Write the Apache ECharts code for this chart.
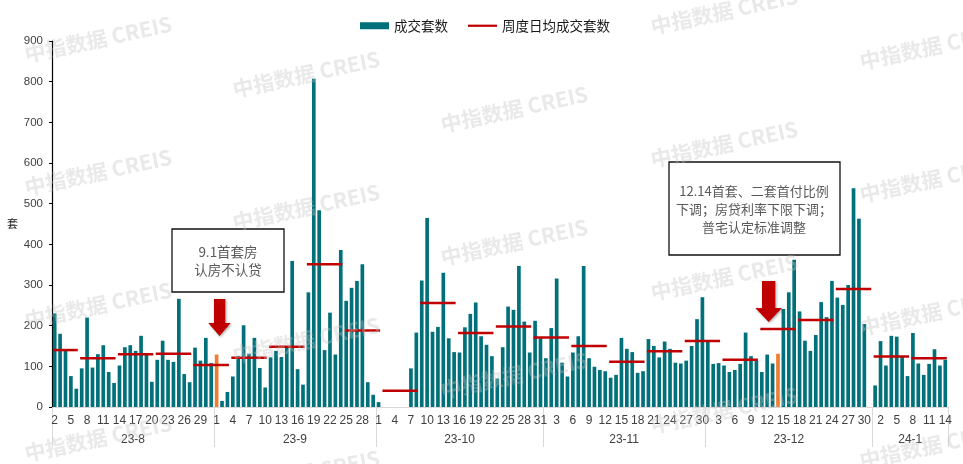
<!DOCTYPE html>
<html><head><meta charset="utf-8">
<script src="https://cdn.jsdelivr.net/npm/echarts@6/dist/echarts.min.js"></script>
<style>html,body{margin:0;padding:0;background:#fff}#c{width:963px;height:464px}</style>
</head><body><div id="c"></div>
<script>
// ---- data ----
const monthLabels = ['23-8', '23-9', '23-10', '23-11', '23-12', '24-1'];
const monthFirstDay = [2, 1, 1, 1, 1, 1];
const monthLastDay = [31, 30, 31, 30, 31, 14];

const aug = [230, 180, 140, 76, 45, 95, 220, 97, 130, 152, 86, 59, 102, 147, 152, 138, 175, 130, 62, 116, 163, 116, 111, 266, 81, 61, 146, 114, 170, 108];
const sep = [129, 15, 37, 75, 125, 201, 131, 170, 96, 48, 122, 138, 123, 147, 359, 93, 55, 282, 807, 484, 140, 232, 129, 386, 261, 293, 310, 351, 61, 30];
const oct = [12, 0, 0, 0, 0, 0, 95, 183, 311, 465, 185, 197, 330, 169, 135, 134, 196, 229, 257, 174, 153, 125, 70, 147, 247, 239, 347, 210, 134, 212, 169];
const nov = [120, 194, 316, 109, 75, 134, 174, 347, 120, 99, 91, 88, 72, 79, 170, 143, 135, 84, 88, 167, 150, 122, 161, 143, 109, 107, 114, 150, 216, 270];
const dec = [161, 106, 108, 102, 86, 91, 106, 183, 125, 113, 86, 129, 107, 131, 241, 282, 362, 235, 163, 138, 177, 258, 221, 310, 269, 251, 300, 538, 463, 204, 0];
const jan = [53, 162, 102, 175, 173, 124, 76, 182, 107, 79, 106, 142, 102, 116];
const dailyValues = [aug, sep, oct, nov, dec, jan];

// weekly (Mon-Sun) daily average; first week is Aug 2-6
const weeklyAvg = [140, 120, 130, 131, 103, 121, 148, 351, 188, 40, 256, 182, 198, 171, 150, 111, 137, 162, 116, 192, 214, 290, 124, 120];
const firstWeekDays = 5;

const highlightDays = ['23-9-1', '23-12-14'];
const seriesNames = ['成交套数', '周度日均成交套数'];
const yTicks = { min: 0, max: 900, interval: 100 };

// ---- build ----
const categories = [];
const values = [];
const monthStart = [];
monthLabels.forEach((m, mi) => {
  monthStart.push(categories.length);
  for (let d = monthFirstDay[mi]; d <= monthLastDay[mi]; d++) categories.push(m + '-' + d);
  values.push(...dailyValues[mi]);
});
const total = categories.length;
const monthBounds = monthStart.concat([total]);
const monthCenters = monthStart.map((s, i) => (s + monthBounds[i + 1]) / 2);

const weekSegs = [];
let ws = 0;
weeklyAvg.forEach((v, k) => {
  const len = k === 0 ? firstWeekDays : 7;
  weekSegs.push([ws, ws + len - 1, v]);
  ws += len;
});

const barData = values.map((v, i) =>
  highlightDays.indexOf(categories[i]) >= 0 ? { value: v, itemStyle: { color: '#ed7d31' } } : v);

// ---- decorations ----
const graphics = [];
const wmCols = [27, 235, 443, 653, 862];
wmCols.forEach((x, i) => {
  const base = 65 + 35 * i;
  for (let k = -1; k < 5; k++) {
    const y = base + 133 * k;
    if (y < -10 || y > 520) continue;
    graphics.push({
      type: 'text', x: x, y: y, rotation: 12 * Math.PI / 180, z: 100, silent: true,
      style: { text: '中指数据 CREIS', font: 'bold 21px "Noto Sans CJK SC", sans-serif',
        fill: 'rgba(195,195,195,0.36)', textAlign: 'left', textVerticalAlign: 'bottom' }
    });
  }
});
const txt = (t, x, y, size) => ({
  type: 'text', x: x, y: y, z: 60,
  style: { text: t, font: size + 'px "Noto Sans CJK SC", sans-serif', fill: '#595959',
    textAlign: 'center', textVerticalAlign: 'middle' }
});
graphics.push(
  { type: 'rect', z: 55, shape: { x: 172, y: 229, width: 112, height: 63 },
    style: { fill: '#fff', stroke: '#111', lineWidth: 1.3 } },
  txt('9.1首套房', 228, 252, 13.5),
  txt('认房不认贷', 228, 270, 13.5),
  { type: 'rect', z: 55, shape: { x: 669, y: 162, width: 171, height: 93 },
    style: { fill: '#fff', stroke: '#111', lineWidth: 1.3 } },
  txt('12.14首套、二套首付比例', 754, 191, 13),
  txt('下调；房贷利率下限下调；', 754, 209, 13),
  txt('普宅认定标准调整', 754, 227, 13),
  { type: 'polygon', z: 55,
    shape: { points: [[214, 299], [225.3, 299], [225.3, 323], [230.7, 323], [219.5, 336], [208.3, 323], [214, 323]] },
    style: { fill: '#c00000', shadowBlur: 3, shadowColor: 'rgba(0,0,0,0.35)', shadowOffsetX: 1, shadowOffsetY: 1 } },
  { type: 'polygon', z: 55,
    shape: { points: [[762, 281], [775.3, 281], [775.3, 308], [782, 308], [768.7, 322], [755.3, 308], [762, 308]] },
    style: { fill: '#c00000', shadowBlur: 3, shadowColor: 'rgba(0,0,0,0.35)', shadowOffsetX: 1, shadowOffsetY: 1 } }
);

const chart = echarts.init(document.getElementById('c'), null, { renderer: 'canvas' });
chart.setOption({
  animation: false,
  backgroundColor: '#fff',
  textStyle: { fontFamily: '"Liberation Sans", Arial, "Noto Sans CJK SC", sans-serif' },
  grid: { left: 52, right: 15, top: 41, bottom: 57, containLabel: false },
  legend: {
    top: 14, left: 355, itemWidth: 29, itemHeight: 7, itemGap: 20,
    textStyle: { fontSize: 13.5, color: '#1a1a1a', fontFamily: '"Noto Sans CJK SC", sans-serif' },
    data: [{ name: seriesNames[0], icon: 'rect' }, { name: seriesNames[1], icon: 'path://M0,0H31V2.4H0Z' }]
  },
  xAxis: [{
    type: 'category', data: categories, boundaryGap: true,
    axisLine: { lineStyle: { color: '#d9d9d9' } },
    axisTick: { show: false },
    axisLabel: { interval: 2, formatter: v => v.split('-').pop(), color: '#404040', fontSize: 12, margin: 8 }
  }, {
    type: 'value', min: 0, max: total, position: 'bottom',
    axisLine: { show: false }, splitLine: { show: false },
    axisTick: { show: true, customValues: monthBounds, length: 40, lineStyle: { color: '#d9d9d9', width: 1 } },
    axisLabel: { customValues: monthCenters, formatter: v => monthLabels[monthCenters.indexOf(v)],
      color: '#404040', fontSize: 12, margin: 27 }
  }],
  yAxis: {
    type: 'value', min: yTicks.min, max: yTicks.max, interval: yTicks.interval,
    name: '套', nameLocation: 'middle', nameGap: 34, nameRotate: 0,
    nameTextStyle: { fontSize: 11, color: '#1a1a1a', fontFamily: '"Noto Sans CJK SC", sans-serif' },
    axisLine: { show: true, lineStyle: { color: '#000', width: 1.2 } },
    axisTick: { show: true, length: 3, lineStyle: { color: '#000' } },
    axisLabel: { color: '#404040', fontSize: 11.5, margin: 9 },
    splitLine: { show: false }
  },
  series: [{
    name: seriesNames[0], type: 'bar', data: barData, barCategoryGap: '32%',
    itemStyle: { color: '#00707a' }
  }, {
    name: seriesNames[1], type: 'custom', data: weekSegs, encode: { x: [0, 1], y: 2 }, z: 5,
    itemStyle: { color: '#c00000' },
    renderItem: (params, api) => {
      const a = api.coord([api.value(0), api.value(2)]);
      const b = api.coord([api.value(1), api.value(2)]);
      return { type: 'line', shape: { x1: a[0] - 1.5, y1: a[1], x2: b[0] + 1.5, y2: b[1] },
        style: { stroke: '#c00000', lineWidth: 2.5 } };
    }
  }],
  graphic: graphics
});
</script></body></html>
